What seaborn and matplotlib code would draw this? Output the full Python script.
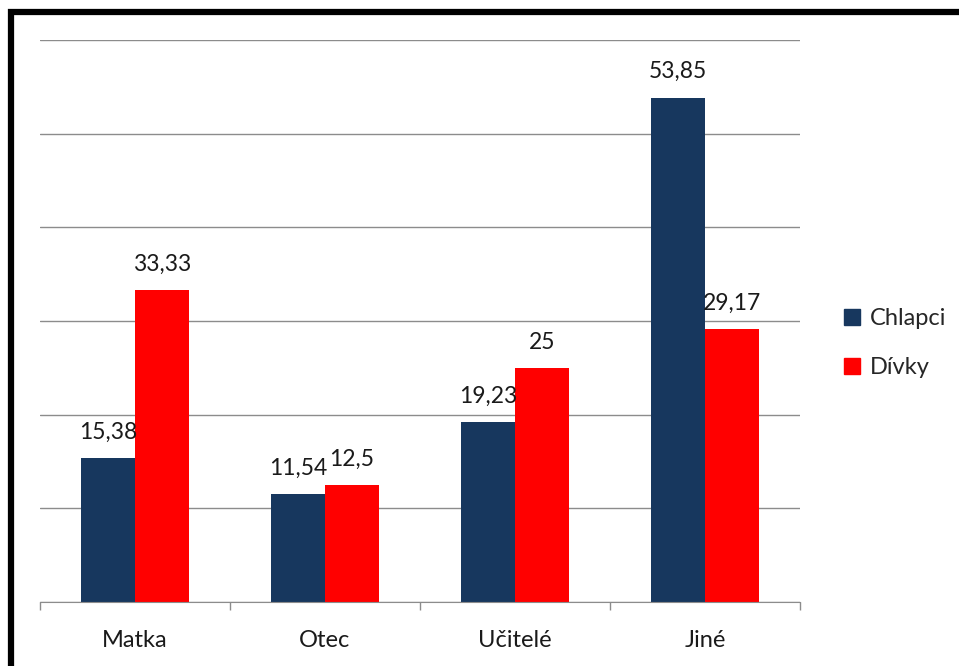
import matplotlib
matplotlib.use("Agg")
import matplotlib.pyplot as plt
from matplotlib.patches import Rectangle
from matplotlib.lines import Line2D
import numpy as np
import pandas as pd
import seaborn as sns

# ========== data ==========
categories = ["Matka", "Otec", "Učitelé", "Jiné"]
series_names = ["Chlapci", "Dívky"]
chlapci = [15.38, 11.54, 19.23, 53.85]
divky = [33.33, 12.5, 25, 29.17]
value_labels = {"Chlapci": ["15,38", "11,54", "19,23", "53,85"],
                "Dívky": ["33,33", "12,5", "25", "29,17"]}
colors = ["#17375E", "#FF0000"]

df = pd.DataFrame({
    "kategorie": categories * 2,
    "skupina": ["Chlapci"] * 4 + ["Dívky"] * 4,
    "hodnota": chlapci + divky,
})

sns.set_style("white")
plt.rcParams["font.family"] = ["Lato", "DejaVu Sans"]

fig = plt.figure(figsize=(9.59, 6.66), dpi=100)
ax = fig.add_axes([40 / 959, 1 - 602 / 666, 760 / 959, 562 / 666])

sns.barplot(data=df, x="kategorie", y="hodnota", hue="skupina",
            palette=colors, width=0.57, saturation=1, linewidth=0,
            ax=ax, legend=False)

ax.set_ylim(0, 60)
ax.set_xlim(-0.5, 3.5)
ax.set_yticks(np.arange(0, 61, 10))
ax.set_yticklabels([])
ax.tick_params(axis="y", length=0)
ax.yaxis.grid(True, color="#8C8C8C", linewidth=1)
ax.set_axisbelow(True)
for s in ["top", "right", "left"]:
    ax.spines[s].set_visible(False)
ax.spines["bottom"].set_color("#8C8C8C")
ax.set_xlabel("")
ax.set_ylabel("")
ax.tick_params(axis="x", which="major", length=0, labelsize=17, pad=20, colors="#1A1A1A")
ax.set_xticks(np.arange(-0.5, 3.6, 1), minor=True)
ax.tick_params(axis="x", which="minor", bottom=True, length=6, color="#8C8C8C",
               width=1, direction="out")

for cont, name in zip(ax.containers, series_names):
    ax.bar_label(cont, labels=value_labels[name], padding=11, fontsize=16.5, color="#1A1A1A")

handles = [Line2D([], [], marker="s", linestyle="", markersize=12, color=c) for c in colors]
fig.legend(handles, series_names, loc="center left", bbox_to_anchor=(843 / 959, 1 - 343 / 666),
           frameon=False, fontsize=17, handlelength=0.8, handletextpad=0.35,
           borderpad=0, borderaxespad=0, labelspacing=1.2)

# black frame (left and top edges visible)
fig.patches.append(Rectangle((11 / 959, -0.1), 1.2, 1.1 - 12 / 666, transform=fig.transFigure,
                             fill=False, edgecolor="black", linewidth=4.5, clip_on=False))

fig.savefig("out.png", dpi=100)
